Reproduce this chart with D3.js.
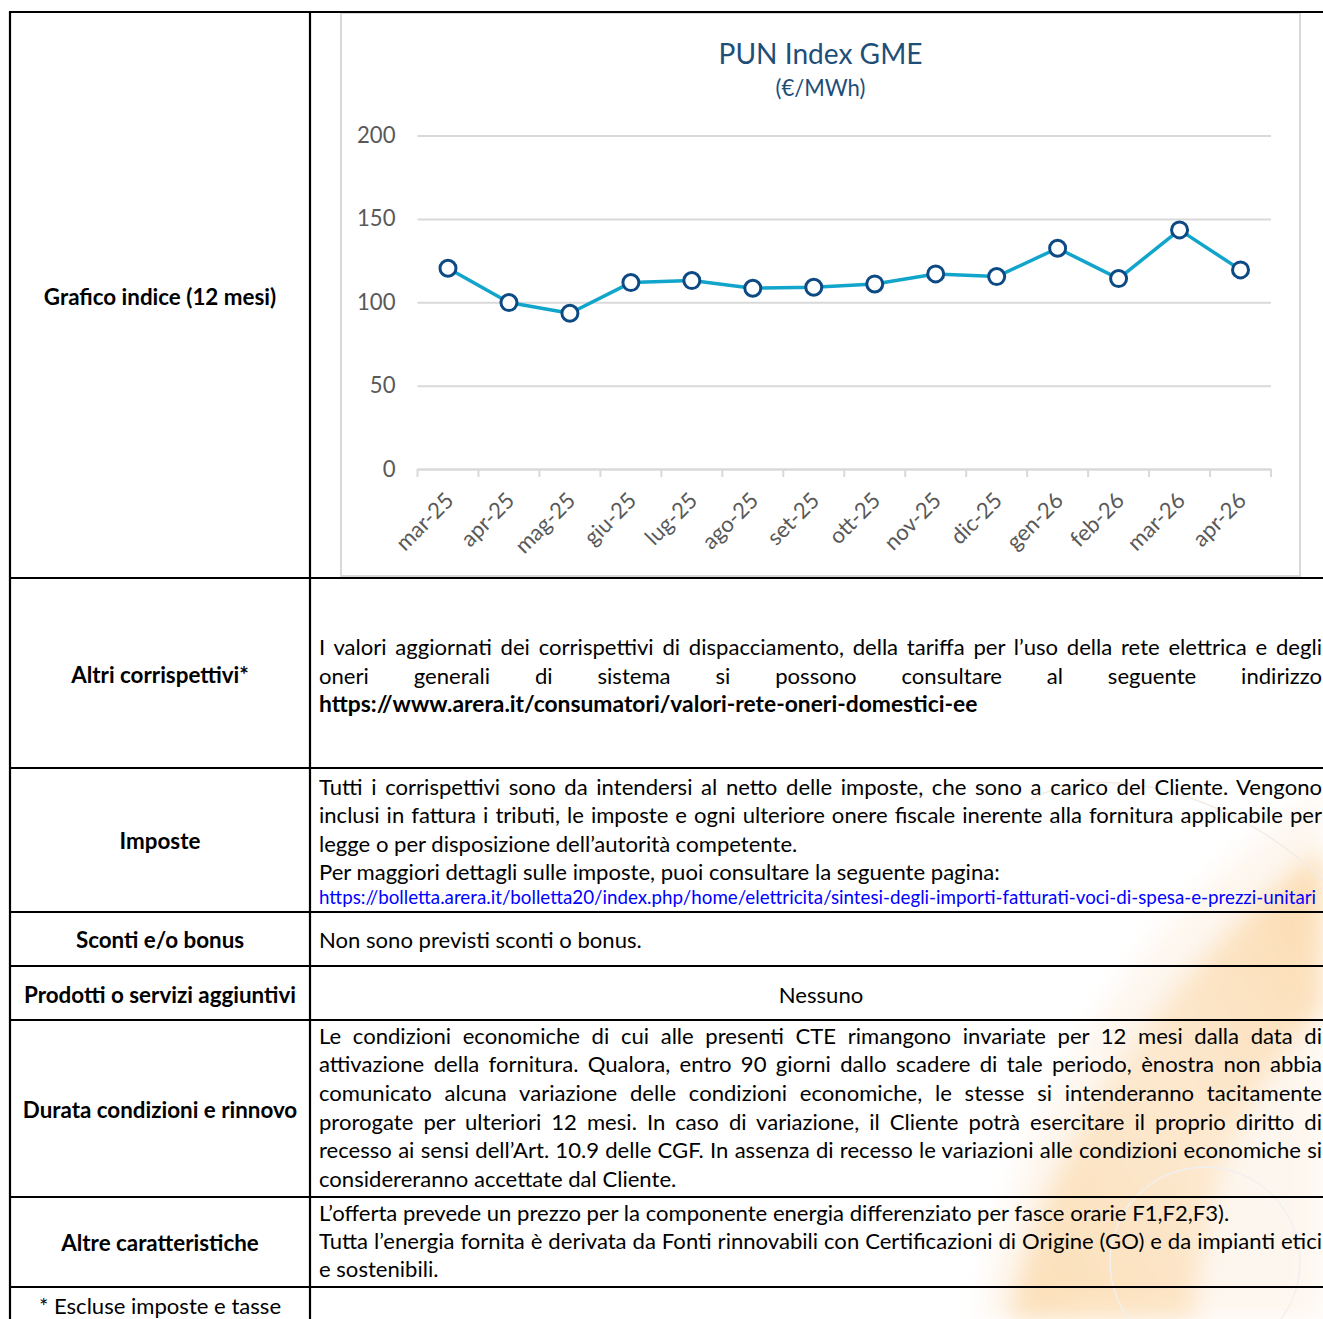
<!DOCTYPE html>
<html>
<head>
<meta charset="utf-8">
<script src="https://cdn.jsdelivr.net/npm/d3@7"></script>
<style>
  body { margin: 0; background: #fff; }
  svg { display: block; }
</style>
</head>
<body>
<div id="page"></div>
<script>
// chart data
var months = ["mar-25", "apr-25", "mag-25", "giu-25", "lug-25", "ago-25", "set-25",
  "ott-25", "nov-25", "dic-25", "gen-26", "feb-26", "mar-26", "apr-26"];
var pun = [120.4, 99.8, 93.4, 111.8, 113.0, 108.4, 109.0, 111.0, 117.0, 115.4, 132.4, 114.2, 143.4, 119.4];
var yTicks = [0, 50, 100, 150, 200];

// table text
var labels = ["Grafico indice (12 mesi)", "Altri corrispettivi*", "Imposte", "Sconti e/o bonus",
  "Prodotti o servizi aggiuntivi", "Durata condizioni e rinnovo", "Altre caratteristiche"];
var altriLines = [
  "I valori aggiornati dei corrispettivi di dispacciamento, della tariffa per l\u2019uso della rete elettrica e degli",
  "oneri generali di sistema si possono consultare al seguente indirizzo"
];
var altriUrl = "https://www.arera.it/consumatori/valori-rete-oneri-domestici-ee";
var imposteLines = [
  "Tutti i corrispettivi sono da intendersi al netto delle imposte, che sono a carico del Cliente. Vengono",
  "inclusi in fattura i tributi, le imposte e ogni ulteriore onere fiscale inerente alla fornitura applicabile per",
  "legge o per disposizione dell\u2019autorit\u00e0 competente.",
  "Per maggiori dettagli sulle imposte, puoi consultare la seguente pagina:"
];
var imposteUrl = "https://bolletta.arera.it/bolletta20/index.php/home/elettricita/sintesi-degli-importi-fatturati-voci-di-spesa-e-prezzi-unitari";
var scontiText = "Non sono previsti sconti o bonus.";
var prodottiText = "Nessuno";
var durataLines = [
  "Le condizioni economiche di cui alle presenti CTE rimangono invariate per 12 mesi dalla data di",
  "attivazione della fornitura. Qualora, entro 90 giorni dallo scadere di tale periodo, \u00e8nostra non abbia",
  "comunicato alcuna variazione delle condizioni economiche, le stesse si intenderanno tacitamente",
  "prorogate per ulteriori 12 mesi. In caso di variazione, il Cliente potr\u00e0 esercitare il proprio diritto di",
  "recesso ai sensi dell\u2019Art. 10.9 delle CGF. In assenza di recesso le variazioni alle condizioni economiche si",
  "considereranno accettate dal Cliente."
];
var altreLines = [
  "L\u2019offerta prevede un prezzo per la componente energia differenziato per fasce orarie F1,F2,F3).",
  "Tutta l\u2019energia fornita \u00e8 derivata da Fonti rinnovabili con Certificazioni di Origine (GO) e da impianti etici",
  "e sostenibili."
];
var footnote = "* Escluse imposte e tasse";

var W = 1323, H = 1319;
var FONT = "Lato, 'Open Sans', sans-serif";

var svg = d3.select("#page").append("svg")
  .attr("width", W)
  .attr("height", H);

function measure(str, weight, size) {
  var t = svg.append("text")
    .attr("font-family", FONT)
    .attr("font-weight", weight)
    .attr("font-size", size)
    .text(str);
  var w = t.node().getComputedTextLength();
  t.remove();
  return w;
}
function fit(str, weight, target) {
  return 40 * target / measure(str, weight, 40);
}

// font sizes fitted to widths seen in the picture
var bodySize = fit(scontiText, 400, 323);
var boldSize = fit(labels[4], 700, 272);
var urlBoldSize = fit(altriUrl, 700, 659);
var urlSize = fit(imposteUrl, 400, 998);
var titleSize = fit("PUN Index GME", 400, 204);
var tickSize = fit("(\u20ac/MWh)", 400, 90);

// faint watermark in the lower right
var defs = svg.append("defs");
defs.append("filter")
  .attr("id", "soft")
  .attr("x", "-20%").attr("y", "-20%")
  .attr("width", "140%").attr("height", "140%")
  .append("feGaussianBlur")
  .attr("stdDeviation", 12);
var grad = defs.append("linearGradient")
  .attr("id", "wm")
  .attr("x1", "1").attr("y1", "0")
  .attr("x2", "0").attr("y2", "1");
grad.append("stop").attr("offset", "0%").attr("stop-color", "#fbd29a");
grad.append("stop").attr("offset", "50%").attr("stop-color", "#fde4c4");
grad.append("stop").attr("offset", "100%").attr("stop-color", "#fbd6a2");

var wm = svg.append("g").attr("class", "watermark");
wm.append("path")
  .attr("d", "M980,1319 C1010,1120 1120,930 1323,790 L1323,1319 Z")
  .attr("fill", "#fdf1e4")
  .attr("opacity", 0.6)
  .attr("filter", "url(#soft)");
wm.append("path")
  .attr("d", "M1010,1319 C1045,1150 1150,985 1323,850 L1323,1010 C1245,1080 1200,1200 1195,1319 Z")
  .attr("fill", "url(#wm)")
  .attr("opacity", 0.72)
  .attr("filter", "url(#soft)");
wm.append("circle")
  .attr("cx", 1205).attr("cy", 1262).attr("r", 95)
  .attr("fill", "none").attr("stroke", "#f0f0f0").attr("stroke-width", 1.5);
wm.append("path")
  .attr("d", "M1030,800 C1100,760 1230,790 1323,880")
  .attr("fill", "none").attr("stroke", "#f2ece5").attr("stroke-width", 1.5);

// ---------- chart ----------
var chart = svg.append("g").attr("class", "chart");

chart.append("rect")
  .attr("x", 341).attr("y", 13)
  .attr("width", 959).attr("height", 563)
  .attr("fill", "#fff")
  .attr("stroke", "#d9d9d9")
  .attr("stroke-width", 2);

var x = d3.scaleBand()
  .domain(months)
  .range([417.5, 1271]);

var y = d3.scaleLinear()
  .domain([0, 200])
  .range([469, 135.5]);

chart.append("text")
  .attr("x", 820.5).attr("y", 64)
  .attr("text-anchor", "middle")
  .attr("font-family", FONT)
  .attr("font-size", titleSize)
  .attr("fill", "#1f4e79")
  .text("PUN Index GME");

chart.append("text")
  .attr("x", 820.5).attr("y", 96)
  .attr("text-anchor", "middle")
  .attr("font-family", FONT)
  .attr("font-size", tickSize)
  .attr("fill", "#1f4e79")
  .text("(\u20ac/MWh)");

// gridlines + y labels
var yAxis = chart.append("g")
  .attr("transform", "translate(417.5,0)")
  .call(d3.axisLeft(y)
    .tickValues(yTicks)
    .tickSize(-(1271 - 417.5))
    .tickPadding(22));
yAxis.select(".domain").remove();
yAxis.selectAll("line")
  .attr("stroke", "#d9d9d9")
  .attr("stroke-width", 2);
yAxis.selectAll("text")
  .attr("font-family", FONT)
  .attr("font-size", tickSize)
  .attr("fill", "#595959");

// x axis with tick marks between categories
var xAxis = chart.append("g")
  .attr("transform", "translate(0,469)")
  .call(d3.axisBottom(x).tickSize(0));
xAxis.select(".domain")
  .attr("stroke", "#d9d9d9")
  .attr("stroke-width", 2);
xAxis.selectAll("text")
  .attr("x", 0).attr("y", 0).attr("dy", 0)
  .attr("text-anchor", "end")
  .attr("transform", "translate(7,33) rotate(-45)")
  .attr("font-family", FONT)
  .attr("font-size", tickSize)
  .attr("fill", "#595959");

var bounds = d3.range(months.length + 1).map(function(i) { return x.range()[0] + i * x.step(); });
xAxis.selectAll("line.bound")
  .data(bounds)
  .enter()
  .append("line")
  .attr("class", "bound")
  .attr("x1", d => d).attr("x2", d => d)
  .attr("y1", 0).attr("y2", 8)
  .attr("stroke", "#d9d9d9")
  .attr("stroke-width", 2);

var line = d3.line()
  .x((d, i) => x(months[i]) + x.bandwidth() / 2)
  .y(d => y(d));

chart.append("path")
  .datum(pun)
  .attr("d", line)
  .attr("fill", "none")
  .attr("stroke", "#12a5cb")
  .attr("stroke-width", 3.5)
  .attr("stroke-linejoin", "round");

chart.selectAll("circle.pt")
  .data(pun)
  .enter()
  .append("circle")
  .attr("class", "pt")
  .attr("cx", (d, i) => x(months[i]) + x.bandwidth() / 2)
  .attr("cy", d => y(d))
  .attr("r", 8)
  .attr("fill", "#fff")
  .attr("stroke", "#0d4a84")
  .attr("stroke-width", 3);

// ---------- table ----------
var table = svg.append("g").attr("class", "table");
var rowLines = [12, 578, 768, 912, 966, 1020, 1197, 1287];

table.selectAll("line.row")
  .data(rowLines)
  .enter()
  .append("line")
  .attr("x1", 9).attr("x2", W)
  .attr("y1", d => d).attr("y2", d => d)
  .attr("stroke", "#000")
  .attr("stroke-width", 2.2);

table.selectAll("line.col")
  .data([10, 310])
  .enter()
  .append("line")
  .attr("x1", d => d).attr("x2", d => d)
  .attr("y1", 11).attr("y2", H)
  .attr("stroke", "#000")
  .attr("stroke-width", 2.2);

// left column labels (bold, centred)
var labelY = [305, 683, 849, 948, 1003, 1118, 1251];
table.selectAll("text.label")
  .data(labels)
  .enter()
  .append("text")
  .attr("class", "label")
  .attr("x", 160)
  .attr("y", (d, i) => labelY[i])
  .attr("text-anchor", "middle")
  .attr("font-family", FONT)
  .attr("font-weight", 700)
  .attr("font-size", boldSize)
  .text(d => d);

table.append("text")
  .attr("x", 160).attr("y", 1314)
  .attr("text-anchor", "middle")
  .attr("font-family", FONT)
  .attr("font-size", bodySize)
  .text(footnote);

// right column paragraphs
var LEFT = 319, RIGHT = 1322;

function addLine(str, yy, justify, opts) {
  opts = opts || {};
  var t = table.append("text")
    .attr("x", LEFT).attr("y", yy)
    .attr("font-family", FONT)
    .attr("font-weight", opts.weight || 400)
    .attr("font-size", opts.size || bodySize)
    .attr("fill", opts.color || "#000")
    .text(str);
  if (justify) {
    var w = t.node().getComputedTextLength();
    var gaps = (str.match(/ /g) || []).length;
    if (gaps) t.style("word-spacing", ((RIGHT - LEFT - w) / gaps) + "px");
  }
  return t;
}

addLine(altriLines[0], 655, true);
addLine(altriLines[1], 684, true);
addLine(altriUrl, 712, false, { weight: 700, size: urlBoldSize });

addLine(imposteLines[0], 795, true);
addLine(imposteLines[1], 823, true);
addLine(imposteLines[2], 852, false);
addLine(imposteLines[3], 880, false);
addLine(imposteUrl, 904, false, { size: urlSize, color: "#0000ff" });

addLine(scontiText, 948, false);

table.append("text")
  .attr("x", 821).attr("y", 1003)
  .attr("text-anchor", "middle")
  .attr("font-family", FONT)
  .attr("font-size", bodySize)
  .text(prodottiText);

var durataY = [1044, 1072, 1101, 1130, 1158, 1187];
durataLines.forEach(function(s, i) {
  addLine(s, durataY[i], i < durataLines.length - 1);
});

var altreY = [1221, 1249, 1277];
altreLines.forEach(function(s, i) {
  addLine(s, altreY[i], i === 1);
});
</script>
</body>
</html>
